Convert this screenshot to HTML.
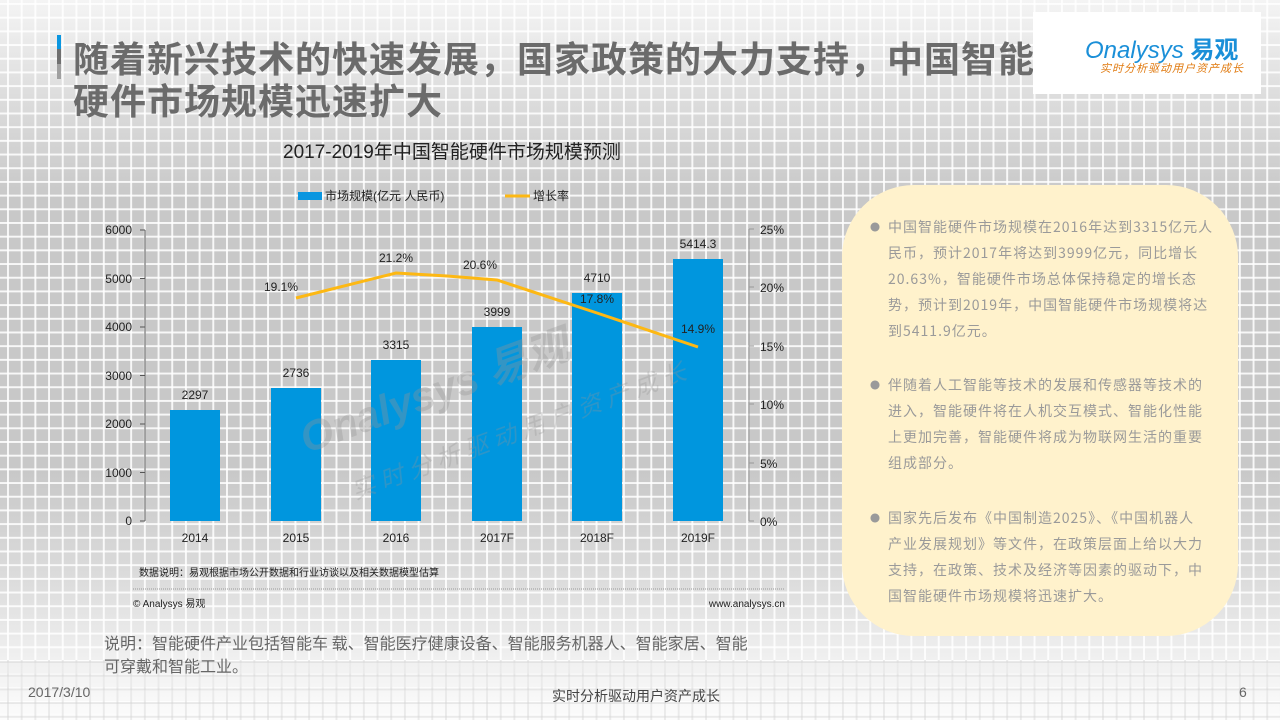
<!DOCTYPE html>
<html><head><meta charset="utf-8"><style>
*{margin:0;padding:0}
body{width:1280px;height:720px;overflow:hidden;position:relative;font-family:"Liberation Sans","Noto Sans CJK SC",sans-serif;
background:linear-gradient(#f4f4f4 0px,#dcdcdc 100px,#c8c8c8 200px,#c8c8c8 470px,#dedede 590px,#eeeeee 650px,#fcfcfc 720px);}
.grid{position:absolute;left:0;top:0;width:1280px;height:720px;
background-image:linear-gradient(90deg,rgba(255,255,255,.85) 2px,transparent 2px),linear-gradient(rgba(255,255,255,.85) 2px,transparent 2px);
background-size:13.7px 13.7px;background-position:7px 3px;}
.grid2{position:absolute;left:0;top:660px;width:1280px;height:60px;
background-image:linear-gradient(90deg,rgba(210,210,210,.45) 2px,transparent 2px),linear-gradient(rgba(210,210,210,.45) 2px,transparent 2px);
background-size:13.7px 13.7px;background-position:7px 1px;}
.t{position:absolute;white-space:nowrap}
.panel{position:absolute;left:842px;top:185px;width:396px;height:451px;background:#fff2cc;border-radius:72px;}
.panel p{position:absolute;left:28px;white-space:nowrap;font-family:"Noto Sans CJK SC",sans-serif;font-size:14px;letter-spacing:1px;line-height:26px;color:#9a9a9a;padding-left:18px}
.panel p b{position:absolute;left:0;top:0;font-weight:normal;font-size:10px;letter-spacing:0}
</style></head><body>
<div class="grid"></div><div class="grid2"></div>
<div style="position:absolute;left:57px;top:35px;width:4px;height:14px;background:#0a96e0"></div>
<div style="position:absolute;left:57px;top:49px;width:4px;height:15px;background:#707070"></div>
<div style="position:absolute;left:57px;top:64px;width:4px;height:15px;background:#a0a0a0"></div>
<div class="t" style="left:73px;top:36px;font-size:36px;font-weight:bold;color:#6b6b6b;line-height:42px;letter-spacing:1px;font-family:'Noto Sans CJK SC',sans-serif">随着新兴技术的快速发展，国家政策的大力支持，中国智能<br>硬件市场规模迅速扩大</div>
<div style="position:absolute;left:1033px;top:12px;width:228px;height:82px;background:#fff"></div>
<div class="t" style="left:1085px;top:30px;font-size:24px;color:#1a8fd8;font-style:italic">Onalysys <b style="font-style:normal">易观</b></div>
<div class="t" style="left:1100px;top:60px;font-size:11px;color:#e07a10;font-style:italic;letter-spacing:1px">实时分析驱动用户资产成长</div>
<div class="t" style="left:283px;top:137px;font-size:19px;color:#222">2017-2019年中国智能硬件市场规模预测</div>
<svg style="position:absolute;left:0;top:0" width="1280" height="720" font-family="Liberation Sans, Noto Sans CJK SC, sans-serif">
<rect x="298" y="192" width="24" height="8" fill="#0a96e0"/><text x="325" y="200" font-size="12" fill="#222">市场规模(亿元 人民币)</text>
<line x1="505" y1="196" x2="530" y2="196" stroke="#fdb813" stroke-width="3"/><text x="533" y="200" font-size="12" fill="#222">增长率</text>
<g stroke="#555" stroke-width="1" fill="none">
<line x1="145" y1="230" x2="145" y2="521"/>
<line x1="140" y1="230" x2="145" y2="230"/><line x1="140" y1="278.5" x2="145" y2="278.5"/><line x1="140" y1="327" x2="145" y2="327"/><line x1="140" y1="375.5" x2="145" y2="375.5"/><line x1="140" y1="424" x2="145" y2="424"/><line x1="140" y1="472.5" x2="145" y2="472.5"/><line x1="140" y1="521" x2="145" y2="521"/>
</g>
<g stroke="#999" stroke-width="1" fill="none">
<line x1="749" y1="229" x2="749" y2="521"/>
<line x1="749" y1="229" x2="754" y2="229"/><line x1="749" y1="287" x2="754" y2="287"/><line x1="749" y1="346" x2="754" y2="346"/><line x1="749" y1="404" x2="754" y2="404"/><line x1="749" y1="463" x2="754" y2="463"/><line x1="749" y1="521" x2="754" y2="521"/>
</g>
<g font-size="12" fill="#222" text-anchor="end">
<text x="132" y="234">6000</text><text x="132" y="283">5000</text><text x="132" y="331">4000</text><text x="132" y="380">3000</text><text x="132" y="428">2000</text><text x="132" y="477">1000</text><text x="132" y="525">0</text>
</g>
<g font-size="12" fill="#222">
<text x="760" y="234">25%</text><text x="760" y="292">20%</text><text x="760" y="351">15%</text><text x="760" y="409">10%</text><text x="760" y="468">5%</text><text x="760" y="526">0%</text>
</g>
<g fill="#0096de">
<rect x="170" y="410" width="50" height="111"/>
<rect x="271" y="388" width="50" height="133"/>
<rect x="371" y="360" width="50" height="161"/>
<rect x="472" y="327" width="50" height="194"/>
<rect x="572" y="293" width="50" height="228"/>
<rect x="673" y="259" width="50" height="262"/>
</g>
<text x="290" y="400" font-size="42" font-weight="bold" font-style="italic" fill="rgba(150,150,150,0.35)" transform="rotate(-20 450 380)">Onalysys 易观</text>
<text x="320" y="460" font-size="24" font-style="italic" fill="rgba(150,150,150,0.3)" transform="rotate(-20 450 380)" letter-spacing="6">实时分析驱动用户资产成长</text>
<polyline points="296,298 396,273 447,276 497,280 597,313 698,347" fill="none" stroke="#fdb813" stroke-width="3"/>
<g font-size="12" fill="#222" text-anchor="middle">
<text x="195" y="399">2297</text><text x="296" y="377">2736</text><text x="396" y="349">3315</text><text x="497" y="316">3999</text><text x="597" y="282">4710</text><text x="698" y="248">5414.3</text>
<text x="281" y="291">19.1%</text><text x="396" y="262">21.2%</text><text x="480" y="269">20.6%</text><text x="597" y="303">17.8%</text><text x="698" y="333">14.9%</text>
<text x="195" y="542">2014</text><text x="296" y="542">2015</text><text x="396" y="542">2016</text><text x="497" y="542">2017F</text><text x="597" y="542">2018F</text><text x="698" y="542">2019F</text>
</g>
<text x="139" y="576" font-size="10" fill="#222">数据说明：易观根据市场公开数据和行业访谈以及相关数据模型估算</text>
<line x1="133" y1="589" x2="785" y2="589" stroke="#999" stroke-dasharray="1,1"/>
<text x="133" y="607" font-size="10" fill="#222">© Analysys 易观</text>
<text x="785" y="607" font-size="10" fill="#222" text-anchor="end">www.analysys.cn</text>
</svg>
<div class="t" style="left:104px;top:631px;font-size:16px;line-height:23px;color:#666;font-family:'Noto Sans CJK SC',sans-serif">说明：智能硬件产业包括智能车 载、智能医疗健康设备、智能服务机器人、智能家居、智能<br>可穿戴和智能工业。</div>
<div class="panel">
<p style="top:29px"><b>●</b>中国智能硬件市场规模在2016年达到3315亿元人<br>民币，预计2017年将达到3999亿元，同比增长<br>20.63%，智能硬件市场总体保持稳定的增长态<br>势，预计到2019年，中国智能硬件市场规模将达<br>到5411.9亿元。</p>
<p style="top:187px"><b>●</b>伴随着人工智能等技术的发展和传感器等技术的<br>进入，智能硬件将在人机交互模式、智能化性能<br>上更加完善，智能硬件将成为物联网生活的重要<br>组成部分。</p>
<p style="top:320px"><b>●</b>国家先后发布《中国制造2025》、《中国机器人<br>产业发展规划》等文件，在政策层面上给以大力<br>支持，在政策、技术及经济等因素的驱动下，中<br>国智能硬件市场规模将迅速扩大。</p>
</div>
<div class="t" style="left:28px;top:684px;font-size:14px;color:#666">2017/3/10</div>
<div class="t" style="left:552px;top:686px;font-size:14px;color:#444">实时分析驱动用户资产成长</div>
<div class="t" style="left:1239px;top:684px;font-size:14px;color:#666">6</div>
</body></html>
